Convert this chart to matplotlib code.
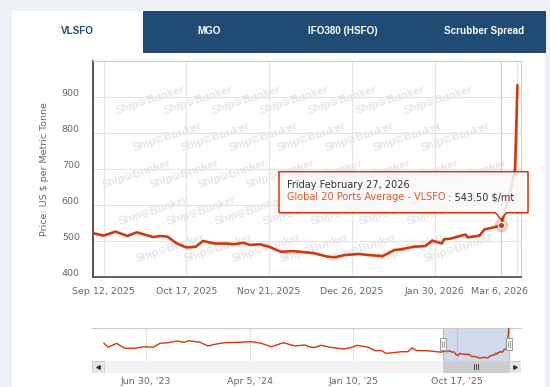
import matplotlib
matplotlib.use("Agg")
import matplotlib.pyplot as plt
import matplotlib.dates as mdates
import matplotlib.transforms as mtrans
from matplotlib.patches import Rectangle, Polygon
import pandas as pd

plt.rcParams['font.family'] = ['DejaVu Sans']

W, H, DPI = 550, 387, 100

# ---------------- data ----------------
main_dates = ["2025-09-08", "2025-09-12", "2025-09-17", "2025-09-22", "2025-09-26",
              "2025-10-03", "2025-10-06", "2025-10-09", "2025-10-13", "2025-10-17",
              "2025-10-21", "2025-10-24", "2025-10-29", "2025-11-03", "2025-11-06",
              "2025-11-10", "2025-11-13", "2025-11-17", "2025-11-21", "2025-11-26",
              "2025-12-01", "2025-12-04", "2025-12-10", "2025-12-16", "2025-12-19",
              "2025-12-23", "2025-12-29", "2026-01-02", "2026-01-08", "2026-01-13",
              "2026-01-16", "2026-01-21", "2026-01-26", "2026-01-29", "2026-02-02",
              "2026-02-03", "2026-02-06", "2026-02-12", "2026-02-13", "2026-02-18",
              "2026-02-20", "2026-02-24", "2026-02-27", "2026-03-02", "2026-03-03",
              "2026-03-04", "2026-03-05", "2026-03-06"]
main_values = [521, 515, 526, 514, 524,
               511, 514, 512, 493, 482,
               484, 500, 493, 493, 491,
               495, 489, 491, 484, 470,
               472, 470, 466, 456, 455,
               461, 464, 461, 458, 475,
               477, 484, 486, 501, 493,
               505, 507, 518, 510, 515,
               532, 538, 543.5, 612, 640,
               668, 700, 933]

hist_dates = ["2023-03-09", "2023-03-20", "2023-04-12", "2023-05-04", "2023-06-01",
              "2023-06-23", "2023-07-20", "2023-08-07", "2023-08-29", "2023-09-21",
              "2023-10-13", "2023-10-23", "2023-11-23", "2023-12-15", "2024-01-02",
              "2024-01-29", "2024-03-05", "2024-04-10", "2024-05-07", "2024-06-03",
              "2024-07-05", "2024-08-05", "2024-09-02", "2024-09-16", "2024-09-30",
              "2024-10-14", "2024-11-08", "2024-12-16", "2025-01-06", "2025-01-20",
              "2025-02-19", "2025-03-10", "2025-03-28", "2025-04-07", "2025-04-28",
              "2025-05-21", "2025-06-06", "2025-06-17", "2025-06-30", "2025-07-28",
              "2025-09-05"]
hist_values = [591, 555, 591, 546, 546,
               560, 555, 591, 597, 612,
               600, 615, 600, 567, 582,
               597, 600, 606, 591, 560,
               597, 567, 576, 555, 555,
               573, 555, 540, 555, 573,
               555, 524, 524, 500, 506,
               515, 515, 549, 524, 524,
               510]

y_ticks = [400, 500, 600, 700, 800, 900]
y_max = 1000
main_tick_dates = ["2025-09-12", "2025-10-17", "2025-11-21", "2025-12-26", "2026-01-30", "2026-03-06"]
main_tick_labels = ["Sep 12, 2025", "Oct 17, 2025", "Nov 21, 2025", "Dec 26, 2025", "Jan 30, 2026", "Mar 6, 2026"]
nav_tick_dates = ["2023-06-30", "2024-04-05", "2025-01-10", "2025-10-17"]
nav_tick_labels = ["Jun 30, '23", "Apr 5, '24", "Jan 10, '25", "Oct 17, '25"]
nav_y_range = (433, 733)
tab_labels = ["VLSFO", "MGO", "IFO380 (HSFO)", "Scrubber Spread"]
series_name = "Global 20 Ports Average - VLSFO"
unit = "$/mt"
y_label = "Price: US $ per Metric Tonne"
tooltip_date = "2026-02-27"
watermark = "Ship\u2299Bunker"

# ---------------- style ----------------
RED = "#cf3a0c"
NAVY = "#1f4b74"
GRAY_TXT = "#666666"

md = pd.to_datetime(main_dates)
hd = pd.to_datetime(hist_dates)
mx_num = mdates.date2num(md)

fig = plt.figure(figsize=(W / DPI, H / DPI), dpi=DPI)
fig.patch.set_facecolor('#eef2f6')


def fr(x, y):
    return x / W, 1 - y / H


def axes_px(l, t, r, b):
    return fig.add_axes([l / W, 1 - b / H, (r - l) / W, (b - t) / H])


# panel + tabs
fig.add_artist(Rectangle(fr(12, 387), (545 - 12) / W, (387 - 11) / H, transform=fig.transFigure,
                         facecolor='white', edgecolor='none', zorder=-2))
fig.add_artist(Rectangle(fr(143.3, 52.3), (545 - 143.3) / W, (52.3 - 11) / H, transform=fig.transFigure,
                         facecolor=NAVY, edgecolor='#18395a', lw=0.6, zorder=-1))
tab_centers = [77.5, 209.5, 343, 484]
for i, (lab, cx) in enumerate(zip(tab_labels, tab_centers)):
    fig.text(*fr(cx, 31.5), lab, ha='center', va='center', fontsize=7.1, fontweight='bold',
             family=['Liberation Sans', 'DejaVu Sans'],
             color=NAVY if i == 0 else 'white', zorder=1)

# ---------------- main chart ----------------
AX_L, AX_T, AX_R, AX_B = 93, 61, 521, 277
ax = axes_px(AX_L, AX_T, AX_R, AX_B)
ax.set_facecolor('white')
ax.set_xlim(mx_num[0] - 0.5, mx_num[-1] + 1.5)
ax.set_ylim(y_ticks[0], y_max)
ax.set_yticks(y_ticks)
ax.set_xticks(mdates.date2num(pd.to_datetime(main_tick_dates)), main_tick_labels)
ax.grid(axis='y', color='#e3e3e3', lw=0.8, zorder=0)
ax.grid(axis='x', color='#dfe5ee', lw=0.8, zorder=0)
ax.set_axisbelow(True)
for s in ['top', 'right']:
    ax.spines[s].set_color('#d0d0d0')
    ax.spines[s].set_linewidth(0.8)
ax.spines['left'].set_color('#444444')
ax.spines['left'].set_linewidth(1.3)
ax.spines['bottom'].set_color('#555555')
ax.spines['bottom'].set_linewidth(1.3)
ax.tick_params(axis='both', length=0, colors=GRAY_TXT, labelsize=6.8)
ax.tick_params(axis='x', pad=7)
ax.tick_params(axis='y', pad=9.5)
for lab in ax.get_yticklabels():
    lab.set_transform(lab.get_transform() + mtrans.ScaledTranslation(0, 5 / DPI, fig.dpi_scale_trans))
xl = ax.get_xticklabels()
xl[-1].set_transform(xl[-1].get_transform() + mtrans.ScaledTranslation(-18 / DPI, 0, fig.dpi_scale_trans))

fig.text(*fr(45, 169), y_label, rotation=90, ha='center', va='center', fontsize=6.8, color=GRAY_TXT)

# watermark tiles (only whole ones, inside the plot area)
for r in range(-1, 8):
    by = 77 + 37 * r
    for c in range(-2, 11):
        bx = 100 + 48 * c + 17 * r
        if bx < AX_L + 2 or bx + 72 > AX_R - 2 or by - 34 < AX_T + 1 or by + 5 > AX_B - 1:
            continue
        ax.text((bx - AX_L) / (AX_R - AX_L), 1 - (by - AX_T) / (AX_B - AX_T), watermark,
                transform=ax.transAxes, rotation=18, rotation_mode='anchor', ha='left', va='baseline',
                fontsize=8, fontweight='bold', family=['Liberation Sans', 'DejaVu Sans'],
                color='#e6e6e6', zorder=0.5)

ax.plot(mx_num, main_values, color=RED, lw=1.9, solid_joinstyle='round', solid_capstyle='round', zorder=3)

# hover point / crosshair
td = pd.Timestamp(tooltip_date)
ti = list(md).index(td)
tv = main_values[ti]
ax.axvline(mx_num[ti], color='#cccccc', lw=0.8, zorder=2)
ax.plot([mx_num[ti]], [tv], 'o', ms=10, color=RED, alpha=0.25, mec='none', zorder=4)
ax.plot([mx_num[ti]], [tv], 'o', ms=4.5, color=RED, mec='white', mew=0.7, zorder=5)

# tooltip
pxd, pyd = ax.transData.transform((mx_num[ti], tv))
tip_x, tip_y = pxd, H - pyd - 6
bl, br, bt, bb = 279, 528, 171.7, 212.7
pts = [(bl, bt), (br, bt), (br, bb), (tip_x + 5.5, bb), (tip_x, tip_y), (tip_x - 5.5, bb), (bl, bb)]
shadow = Polygon([fr(x + 1.2, y + 1.2) for x, y in pts], closed=True, transform=fig.transFigure,
                 facecolor='#000000', alpha=0.12, edgecolor='none', zorder=5)
fig.add_artist(shadow)
box = Polygon([fr(x, y) for x, y in pts], closed=True, transform=fig.transFigure,
              facecolor=(1, 1, 1, 0.86), edgecolor=RED, lw=1.1, joinstyle='round', zorder=6)
fig.add_artist(box)
t1 = fig.text(*fr(286.7, 185), f"{td:%A %B} {td.day}, {td.year}", ha='left', va='center',
              fontsize=7, color='#333333', zorder=7)
t2 = fig.text(*fr(286.7, 197), series_name, ha='left', va='center', fontsize=7, color='#d9572c', zorder=7)
t3 = matplotlib.text.Annotation(f" : {tv:.2f} {unit}", xy=(1, 0.5), xycoords=t2, ha='left', va='center',
                                fontsize=7, color='#333333', zorder=7)
fig.add_artist(t3)

# ---------------- navigator ----------------
all_num = list(mdates.date2num(hd)) + list(mx_num)
all_val = hist_values + main_values
dpp = (all_num[-1] - all_num[0]) / (509 - 104)
nav = axes_px(92.3, 327.7, 520.7, 360.7)
nav.set_xlim(all_num[0] - (104 - 92.3) * dpp, all_num[-1] + (520.7 - 509) * dpp)
nav.set_ylim(*nav_y_range)
nav.set_facecolor('white')
for s in ['left', 'right', 'bottom']:
    nav.spines[s].set_visible(False)
nav.spines['top'].set_color('#cccccc')
nav.spines['top'].set_linewidth(0.8)
nav.set_yticks([])
nav.set_xticks(mdates.date2num(pd.to_datetime(nav_tick_dates)), nav_tick_labels)
nav.grid(axis='x', color='#e3e3e3', lw=0.8)
nav.set_axisbelow(True)
nav.tick_params(axis='x', length=0, colors=GRAY_TXT, labelsize=6.8, pad=12)
nav.axvspan(mx_num[0], mx_num[-1], color='#6685c2', alpha=0.3, lw=0, zorder=1)
nav.plot(all_num, all_val, color=RED, lw=1.0, zorder=3)
nav.axvline(mx_num[0], color='#aab5cc', lw=0.6, zorder=2)
nav.axvline(mx_num[-1], color='#aab5cc', lw=0.6, zorder=2)
blend = mtrans.blended_transform_factory(nav.transData, nav.transAxes)
hw = 6 * dpp
hh = 12 / 33
for xn in (mx_num[0], mx_num[-1]):
    nav.add_patch(Rectangle((xn - hw / 2, 0.5 - hh / 2), hw, hh, transform=blend,
                            facecolor='#f4f4f4', edgecolor='#999999', lw=0.7, zorder=5, clip_on=False))
    for off in (-1, 1):
        nav.plot([xn + off * dpp, xn + off * dpp], [0.5 - hh / 4, 0.5 + hh / 4], transform=blend,
                 color='#888888', lw=0.5, zorder=6, clip_on=False)

# scrollbar
sb = axes_px(92.3, 360.7, 520.7, 372.7)
sb.set_xlim(nav.get_xlim())
sb.set_ylim(0, 1)
sb.set_facecolor('#f2f2f2')
for s in sb.spines.values():
    s.set_visible(False)
sb.set_xticks([])
sb.set_yticks([])
bw = 12 / 428.4
sb.add_patch(Rectangle((0, 0), bw, 1, transform=sb.transAxes, facecolor='#e6e6e6', edgecolor='#cccccc', lw=0.6))
sb.add_patch(Rectangle((1 - bw, 0), bw, 1, transform=sb.transAxes, facecolor='#e6e6e6', edgecolor='#cccccc', lw=0.6))
sb.plot([bw / 2], [0.5], marker='<', ms=2.5, color='#333333', transform=sb.transAxes)
sb.plot([1 - bw / 2], [0.5], marker='>', ms=2.5, color='#333333', transform=sb.transAxes)
sb.add_patch(Rectangle((mx_num[0], 0), mx_num[-1] - mx_num[0], 1, facecolor='#cccccc', edgecolor='#cccccc', lw=0.5))
cx = (mx_num[0] + mx_num[-1]) / 2
for off in (-2, 0, 2):
    sb.plot([cx + off * dpp, cx + off * dpp], [0.3, 0.7], color='#333333', lw=0.6)

fig.savefig("out.png", dpi=DPI)
